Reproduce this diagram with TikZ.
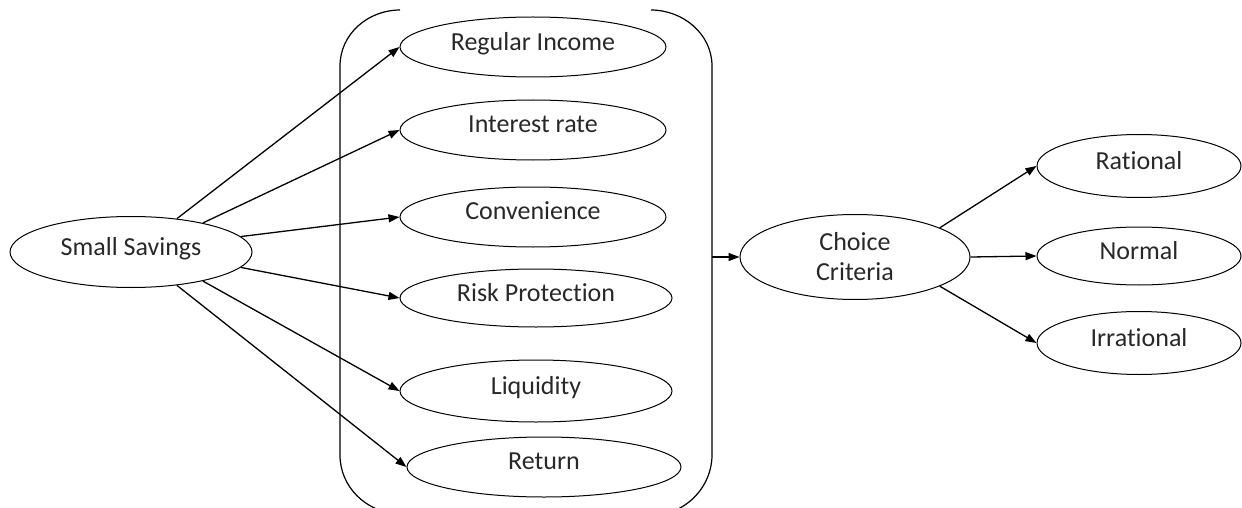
\documentclass[tikz,border=0pt]{standalone}
\usepackage{fontspec}
\setmainfont{Carlito}[Ligatures=NoCommon]
\usetikzlibrary{shapes.geometric,arrows.meta}
\definecolor{txt}{RGB}{40,40,40}
\begin{document}
\begin{tikzpicture}[x=1pt,y=-1pt,
  el/.style={draw,ellipse,line width=1pt,inner sep=0pt,font=\fontsize{26}{30}\selectfont,text=txt,align=center},
  one/.style={text depth=12pt},
  arr/.style={line width=1.3pt,-{Triangle[length=11pt,width=8pt]}},
  brk/.style={line width=1.2pt}]
\useasboundingbox (0,0) rectangle (1242,508);
\begin{scope}
\clip (0,0) rectangle (1242,508);
% brackets
\draw[brk] (400,10) .. controls (368,10) and (340,34) .. (340,66) -- (340,455) .. controls (340,487) and (366,512) .. (398,514);
\draw[brk] (651,10) .. controls (683,10) and (712,34) .. (712,66) -- (712,455) .. controls (712,487) and (686,512) .. (660,514);
\end{scope}
\node[el,one,minimum width=242pt,minimum height=71pt] (ss) at (131,252) {Small Savings};
\node[el,one,minimum width=266pt,minimum height=60pt] (ri) at (533,47) {Regular Income};
\node[el,one,minimum width=266pt,minimum height=60pt] (ir) at (533,130) {Interest rate};
\node[el,one,minimum width=266pt,minimum height=60pt] (cv) at (533,217) {Convenience};
\node[el,one,minimum width=272pt,minimum height=58pt] (rp) at (536,298) {Risk Protection};
\node[el,one,minimum width=272pt,minimum height=62pt] (lq) at (536,391) {Liquidity};
\node[el,one,minimum width=274pt,minimum height=60pt] (rt) at (544,467) {Return};
\node[el,minimum width=230pt,minimum height=85pt] (cc) at (855,257) {Choice\\Criteria};
\node[el,one,minimum width=204pt,minimum height=63pt] (ra) at (1139,166) {Rational};
\node[el,one,minimum width=204pt,minimum height=58pt] (no) at (1139,256) {Normal};
\node[el,one,minimum width=204pt,minimum height=63pt] (irr) at (1139,343) {Irrational};
\coordinate (br) at (712,257);
\draw[arr] (ss.36) -- (ri.west);
\draw[arr] (ss.22) -- (ir.west);
\draw[arr] (ss.8) -- (cv.west);
\draw[arr] (ss.-8) -- (rp.west);
\draw[arr] (ss.-22) -- (lq.west);
\draw[arr] (ss.-36) -- (rt.west);
\draw[arr] (br) -- (cc.west);
\draw[arr] (cc.19) -- (ra.west);
\draw[arr] (cc.east) -- (no.west);
\draw[arr] (cc.-19) -- (irr.west);
\end{tikzpicture}
\end{document}
